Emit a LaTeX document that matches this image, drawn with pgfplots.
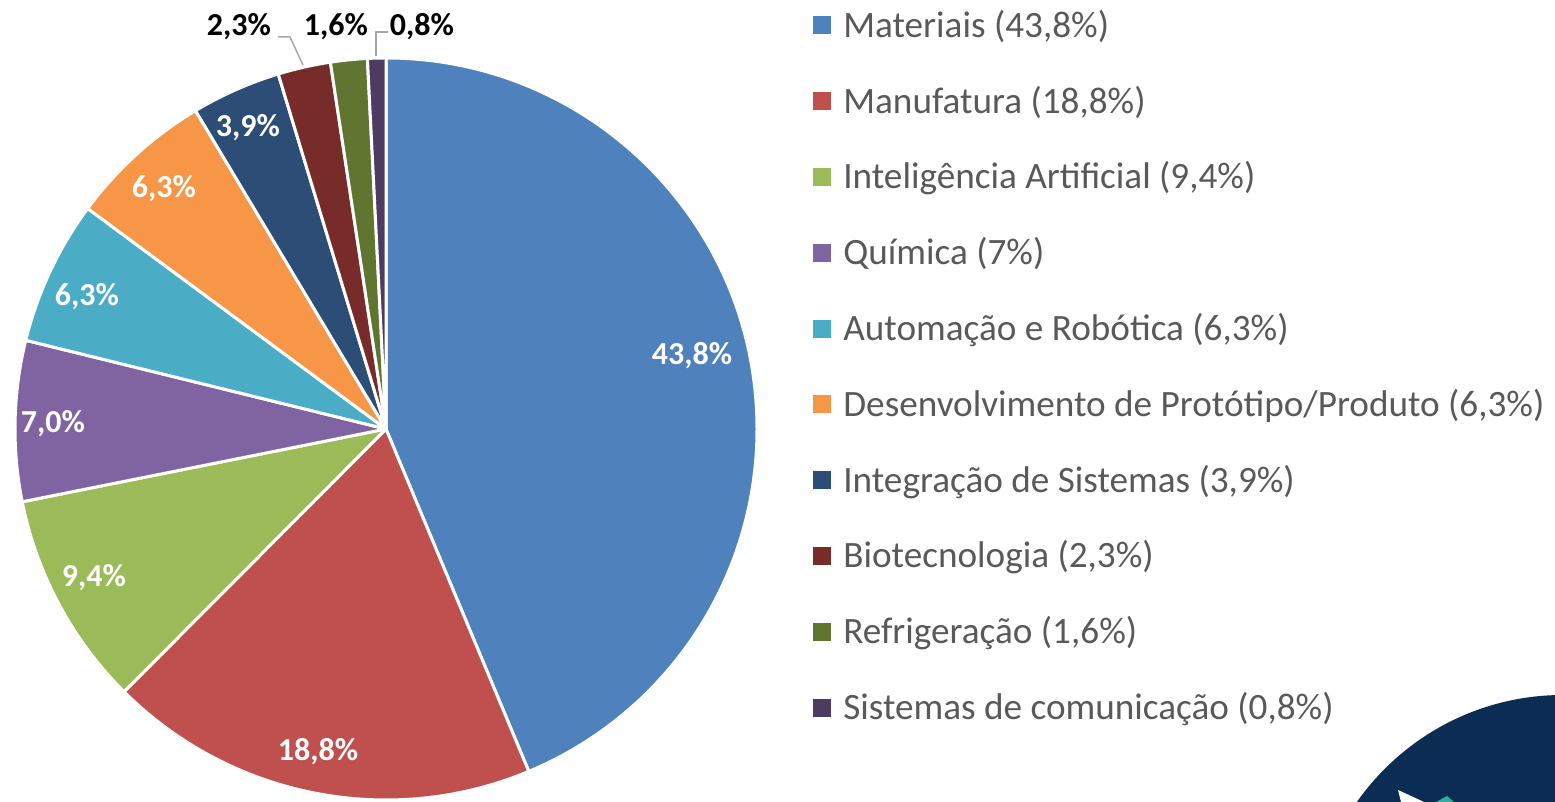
\documentclass[border=0pt]{standalone}
\usepackage{pgfplots}
\pgfplotsset{compat=1.18}
\usepackage{pgfplotstable}
\usepackage{fontspec}
\setmainfont{Carlito}

\definecolor{cMat}{HTML}{4F81BD}
\definecolor{cMan}{HTML}{C0504D}
\definecolor{cIA}{HTML}{9BBB59}
\definecolor{cQui}{HTML}{8064A2}
\definecolor{cAut}{HTML}{4BACC6}
\definecolor{cDes}{HTML}{F79646}
\definecolor{cInt}{HTML}{2C4D75}
\definecolor{cBio}{HTML}{772C2A}
\definecolor{cRef}{HTML}{5F7530}
\definecolor{cSis}{HTML}{4D3B62}
\definecolor{legendgray}{HTML}{595959}
\definecolor{leadergray}{HTML}{A6A6A6}
\definecolor{logonavy}{HTML}{0B2D54}
\definecolor{logoteal}{HTML}{2AB09B}

% value; slice colour; label position (px, y up); label colour; label; legend text
\pgfplotstableread[col sep=semicolon, row sep=\\]{
value;color;lx;ly;lcol;label;legend\\
43.8;cMat;692;437;white;43,8\%;Materiais (43,8\%)\\
18.8;cMan;318;41;white;18,8\%;Manufatura (18,8\%)\\
9.4;cIA;94;215;white;9,4\%;Inteligência Artificial (9,4\%)\\
7.0;cQui;53;369;white;7,0\%;Química (7\%)\\
6.3;cAut;87;496;white;6,3\%;Automação e Robótica (6,3\%)\\
6.3;cDes;164;604;white;6,3\%;Desenvolvimento de Protótipo/Produto (6,3\%)\\
3.9;cInt;248;665;white;3,9\%;Integração de Sistemas (3,9\%)\\
2.3;cBio;239;766;black;2,3\%;Biotecnologia (2,3\%)\\
1.6;cRef;336;766;black;1,6\%;Refrigeração (1,6\%)\\
0.8;cSis;422;766;black;0,8\%;Sistemas de comunicação (0,8\%)\\
}\piedata

\begin{document}
\begin{tikzpicture}
\def\tot{0}
\pgfplotsforeachungrouped \i in {0,...,9}{%
  \pgfplotstablegetelem{\i}{value}\of\piedata
  \pgfmathsetmacro\tot{\tot+\pgfplotsretval}%
}
\begin{axis}[
    hide axis,
    x=0.5pt, y=0.5pt,
    xmin=0, xmax=1555, ymin=0, ymax=802,
    legend image code/.code={\fill[#1] (0pt,-4.5pt) rectangle (9pt,4.5pt);},
    legend style={
        at={(0.5228,0.9867)}, anchor=north west,
        draw=none, fill=none, inner sep=0pt,
        font=\fontsize{18.6}{22}\selectfont, text=legendgray,
        row sep=23.6pt, column sep=6pt,
        nodes={inner sep=0pt, text height=13.1pt, text depth=1.2pt},
        cells={anchor=west},
    },
]
% logo in the corner
\fill[logonavy] (axis cs:1563,-145) circle[radius=126pt];
\fill[white] (axis cs:1398,12) -- (axis cs:1424,0) -- (axis cs:1401,0) -- cycle;
\fill[logoteal] (axis cs:1436,0) -- (axis cs:1447,6) -- (axis cs:1454,0) -- cycle;

\def\cum{0}
\pgfplotsforeachungrouped \i in {0,...,9}{%
  \pgfplotstablegetelem{\i}{value}\of\piedata \let\val\pgfplotsretval
  \pgfplotstablegetelem{\i}{color}\of\piedata \let\col\pgfplotsretval
  \pgfplotstablegetelem{\i}{lx}\of\piedata \let\lx\pgfplotsretval
  \pgfplotstablegetelem{\i}{ly}\of\piedata \let\ly\pgfplotsretval
  \pgfplotstablegetelem{\i}{lcol}\of\piedata \let\lcol\pgfplotsretval
  \pgfplotstablegetelem{\i}{label}\of\piedata \let\lab\pgfplotsretval
  \pgfplotstablegetelem{\i}{legend}\of\piedata \let\leg\pgfplotsretval
  \pgfmathsetmacro\sa{90-\cum/\tot*360}%
  \pgfmathsetmacro\cum{\cum+\val}%
  \pgfmathsetmacro\ea{90-\cum/\tot*360}%
  \edef\temp{%
    \noexpand\fill[\col, draw=white, line width=1.5pt, line join=round]
      (axis cs:386,373) -- ++(\sa:185.5pt)
      arc[start angle=\sa, end angle=\ea, radius=185.5pt] -- cycle;
    \noexpand\node[anchor=base, inner sep=0pt, text=\lcol,
      font=\noexpand\bfseries\noexpand\fontsize{16}{19}\noexpand\selectfont]
      at (axis cs:\lx,\ly) {\lab};
    \noexpand\addlegendimage{fill=\col, draw=none}
    \noexpand\addlegendentry{\leg}
  }\temp
}
% leader lines for the small slices
\draw[leadergray, line width=0.75pt] (axis cs:278,765) -- (axis cs:290,765) -- (axis cs:303,737);
\draw[leadergray, line width=0.75pt] (axis cs:376,746) -- (axis cs:376,770) -- (axis cs:388,770);

\coordinate (BL) at (axis cs:0,0);
\coordinate (TR) at (axis cs:1555,802);
\end{axis}
\pgfresetboundingbox
\path[use as bounding box] (BL) rectangle (TR);
\end{tikzpicture}
\end{document}
